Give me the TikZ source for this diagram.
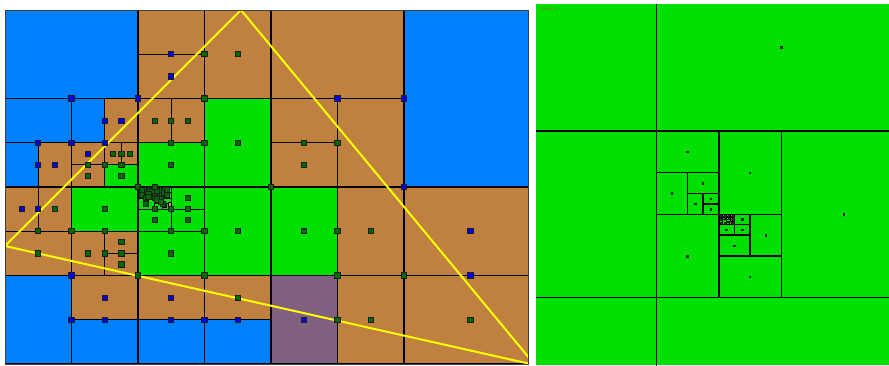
\documentclass[tikz,border=0pt]{standalone}
\definecolor{blueC}{RGB}{0,128,255}
\definecolor{brownC}{RGB}{192,128,64}
\definecolor{greenC}{RGB}{0,224,0}
\definecolor{purpleC}{RGB}{128,96,128}
\definecolor{yellowC}{RGB}{255,255,0}
\definecolor{dotB}{RGB}{0,0,235}
\definecolor{dotG}{RGB}{0,105,0}
\definecolor{dotEdge}{RGB}{30,30,30}
\definecolor{salmonC}{RGB}{225,140,100}
\definecolor{labelC}{RGB}{150,110,0}
\tikzset{
  cellB/.style={fill=blueC,draw=black,line width=1.2pt},
  cellR/.style={fill=brownC,draw=black,line width=1.2pt},
  cellG/.style={fill=greenC,draw=black,line width=1.2pt},
  cellP/.style={fill=purpleC,draw=black,line width=1.2pt},
  gline/.style={draw=black,line width=1pt},
  bdot/.style={fill=dotB,draw=dotEdge,line width=0.9pt},
  gdot/.style={fill=dotG,draw=dotEdge,line width=0.9pt},
  tri/.style={draw=yellowC,line width=2pt,line join=miter},
  rline/.style={draw=black,line width=1.4pt},
  rdot/.style={fill=black!85},
}
\begin{document}
\begin{tikzpicture}[x=1pt,y=-1pt]
\useasboundingbox (0,0) rectangle (889,365);
\fill[white] (0,0) rectangle (889,365);

% ---------------- left panel ----------------
\begin{scope}
\clip (5,10) rectangle (528,364);
\begin{scope}[shift={(5,10)},x=33.25pt,y=-44.25pt]
 % blue cells
 \filldraw[cellB] (0,0) rectangle (4,2);
 \filldraw[cellB] (12,0) rectangle (16,4);
 \filldraw[cellB] (0,2) rectangle (2,3);
 \filldraw[cellB] (2,2) rectangle (3,3);
 \filldraw[cellB] (0,3) rectangle (1,4);
 \filldraw[cellB] (0,6) rectangle (2,8);
 \filldraw[cellB] (2,7) rectangle (4,8);
 \filldraw[cellB] (4,7) rectangle (6,8);
 \filldraw[cellB] (6,7) rectangle (8,8);
 % brown cells
 \filldraw[cellR] (4,0) rectangle (6,1);
 \filldraw[cellR] (4,1) rectangle (6,2);
 \filldraw[cellR] (6,0) rectangle (8,2);
 \filldraw[cellR] (8,0) rectangle (12,2);
 \filldraw[cellR] (3,2) rectangle (4,3);
 \filldraw[cellR] (4,2) rectangle (5,3);
 \filldraw[cellR] (5,2) rectangle (6,3);
 \filldraw[cellR] (8,2) rectangle (10,3);
 \filldraw[cellR] (8,3) rectangle (10,4);
 \filldraw[cellR] (10,2) rectangle (12,4);
 \filldraw[cellR] (1,3) rectangle (2,4);
 \filldraw[cellR] (2,3) rectangle (3,3.5);
 \filldraw[cellR] (3,3) rectangle (3.5,3.5);
 \filldraw[cellR] (3.5,3) rectangle (4,3.5);
 \filldraw[cellR] (2,3.5) rectangle (3,4);
 \filldraw[cellR] (0,4) rectangle (1,5);
 \filldraw[cellR] (1,4) rectangle (2,5);
 \filldraw[cellR] (0,5) rectangle (2,6);
 \filldraw[cellR] (2,5) rectangle (3,6);
 \filldraw[cellR] (3,5) rectangle (4,5.5);
 \filldraw[cellR] (3,5.5) rectangle (4,6);
 \filldraw[cellR] (10,4) rectangle (12,6);
 \filldraw[cellR] (12,4) rectangle (16,6);
 \filldraw[cellR] (2,6) rectangle (4,7);
 \filldraw[cellR] (4,6) rectangle (6,7);
 \filldraw[cellR] (6,6) rectangle (8,7);
 \filldraw[cellR] (10,6) rectangle (12,8);
 \filldraw[cellR] (12,6) rectangle (16,8);
 % green cells
 \filldraw[cellG] (6,2) rectangle (8,4);
 \filldraw[cellG] (4,3) rectangle (6,4);
 \filldraw[cellG] (3,3.5) rectangle (4,4);
 \filldraw[cellG] (2,4) rectangle (4,5);
 \filldraw[cellG] (4,4) rectangle (5,4.5);
 \filldraw[cellG] (5,4) rectangle (6,4.5);
 \filldraw[cellG] (4,4.5) rectangle (5,5);
 \filldraw[cellG] (5,4.5) rectangle (6,5);
 \filldraw[cellG] (6,4) rectangle (8,6);
 \filldraw[cellG] (8,4) rectangle (10,6);
 \filldraw[cellG] (4,5) rectangle (6,6);
 % purple cell
 \filldraw[cellP] (8,6) rectangle (10,8);
 % fine subdivision of the dense cell
 \draw[gline] (4.5,4) -- (4.5,4.5);
 \draw[gline] (4,4.25) -- (5,4.25);
 \draw[gline] (4.25,4) -- (4.25,4.25);
 \draw[gline] (4,4.125) -- (4.5,4.125);
 \draw[gline] (4.75,4) -- (4.75,4.25);
 \draw[gline] (4.5,4.125) -- (5,4.125);
 \draw[gline] (4.375,4.125) -- (4.375,4.25);
 \draw[gline] (4.25,4.1875) -- (4.5,4.1875);
 \draw[gline] (4.625,4.125) -- (4.625,4.25);
 \draw[gline] (4.5,4.1875) -- (4.75,4.1875);
 \draw[gline] (4.75,4.25) -- (4.75,4.5);
 \draw[gline] (4.5,4.375) -- (5,4.375);
 \draw[gline] (4.625,4.25) -- (4.625,4.375);
 \draw[gline] (4.5,4.3125) -- (4.75,4.3125);
\end{scope}
% small brown cells inside the dense cell
\filldraw[fill=salmonC,draw=black,line width=0.5pt] (162.5,204) rectangle (166,207.5);
\filldraw[fill=salmonC,draw=black,line width=0.5pt] (168,202.5) rectangle (171.5,206);
% yellow triangle
\draw[tri] (241,10) -- (5,246) -- (535,365) -- cycle;
% dots
\begin{scope}[shift={(5,10)},x=33.25pt,y=-44.25pt]
 \foreach \i/\j in {5/1,5/1.5,2/2,4/2,10/2,12/2,3/2.5,3.5/2.5,1/3,2/3,3/3,2.5/3.25,1/3.5,1.5/3.5,12/4,0.5/4.5,1/4.5,14/5,2/6,14/6,3/6.5,5/6.5,2/7,3/7,5/7,6/7,7/7,9/7}
   \filldraw[bdot] (\i,\j) ++(-2.6pt,-2.6pt) rectangle ++(5.2pt,5.2pt);
 \foreach \i/\j in {6/1,7/1,6/2,4.5/2.5,5/2.5,5.5/2.5,5/3,6/3,7/3,9/3,10/3,3.25/3.25,3.5/3.25,3.75/3.25,2.5/3.5,3/3.5,3.5/3.5,5/3.5,9/3.5,2.5/3.75,3.5/3.75,4/4,8/4,1.5/4.5,3/4.5,5.5/4.25,5.5/4.5,5/4.5,4.5/4.5,4.5/4.75,5.5/4.75,1/5,2/5,3/5,5/5,6/5,7/5,9/5,10/5,11/5,1/5.5,3.5/5.25,2.5/5.5,3/5.5,3.5/5.5,3.5/5.75,5/5.5,4/6,6/6,10/6,12/6,7/6.5,10/7,11/7,14/7}
   \filldraw[gdot] (\i,\j) ++(-2.6pt,-2.6pt) rectangle ++(5.2pt,5.2pt);
 % dense cluster
 \foreach \i/\j in {4.25/4.125,4.75/4.125,4.25/4.375,4.75/4.375,4.125/4.0625,4.375/4.0625,4.125/4.1875,4.375/4.1875,4.625/4.0625,4.875/4.0625,4.625/4.1875,4.875/4.1875,4.4375/4.15625,4.5625/4.15625,4.4375/4.21875,4.5625/4.21875,4.5/4.1875,4.5/4.125,4.5/4.25,4.25/4.25,4.625/4.3125,4.4375/4.09375,4.5625/4.09375,4.5/4,4.6875/4.28125,4.5625/4.28125,4.6875/4.34375,4.3125/4.15625,4.3125/4.21875}
   \filldraw[gdot] (\i,\j) ++(-2.6pt,-2.6pt) rectangle ++(5.2pt,5.2pt);
\end{scope}
\end{scope}
\draw[black!75,line width=0.8pt] (5,10) rectangle (528,364);

% ---------------- right panel (zoom) ----------------
\begin{scope}
\clip (536,4) rectangle (889,365);
\fill[greenC] (536,4) rectangle (889,365);
\begin{scope}[shift={(656.3,131)},x=125pt,y=-166.7pt]
 \draw[rline] (0,-1) -- (0,2);
 \draw[rline] (-1,0) -- (2,0);
 \draw[rline] (-1,1) -- (2,1);
 \draw[rline] (1,0) -- (1,1);
 \draw[rline] (0,0.5) -- (1,0.5);
 \draw[rline] (0.5,0) -- (0.5,1);
 \draw[rline] (0,0.25) -- (0.5,0.25);
 \draw[rline] (0.25,0.25) -- (0.25,0.5);
 \draw[rline] (0.25,0.375) -- (0.5,0.375);
 \draw[rline] (0.375,0.375) -- (0.375,0.5);
 \draw[rline] (0.375,0.4375) -- (0.5,0.4375);
 \draw[rline] (0.5,0.75) -- (1,0.75);
 \draw[rline] (0.75,0.5) -- (0.75,0.75);
 \draw[rline] (0.5,0.625) -- (0.75,0.625);
 \draw[rline] (0.625,0.5) -- (0.625,0.625);
 \draw[rline] (0.5,0.5625) -- (0.75,0.5625);
 % cluster
 \draw[rline] (0.5625,0.5) -- (0.5625,0.5625);
 \draw[rline] (0.5,0.53125) -- (0.625,0.53125);
 \draw[rline] (0.53125,0.5) -- (0.53125,0.53125);
 \draw[rline] (0.5,0.515625) -- (0.5625,0.515625);
 \draw[rline] (0.59375,0.5) -- (0.59375,0.5625);
 \draw[rline] (0.5625,0.515625) -- (0.625,0.515625);
 \draw[rline] (0.53125,0.53125) -- (0.53125,0.5625);
 \draw[rline] (0.5625,0.546875) -- (0.625,0.546875);
\end{scope}
\filldraw[fill=salmonC,draw=black,line width=0.5pt] (729,221.5) rectangle (731.7,224.3);
\foreach \x/\y in {781.7/47.7,687.7/152,750/173,703/183.3,672/193.7,695.3/204,711/199,711/204,711/209.3,844/214.3,742.3/219.7,742.3/230,726.7/230,766/235.3,734.7/246,687.7/256.3,750/277,721/216,725/216,729/216,733/216,721/219.5,725/218,729/219,733/219.5,721/223,725/223,733/223}
  \fill[rdot] (\x,\y) ++(-1.3pt,-1.3pt) rectangle ++(2.6pt,2.6pt);
\node[anchor=west,inner sep=0pt,text=labelC,font=\sffamily\fontsize{5}{6}\selectfont] (lbl) at (541,8.5) {Zoom 1};
\end{scope}
\end{tikzpicture}
\end{document}
